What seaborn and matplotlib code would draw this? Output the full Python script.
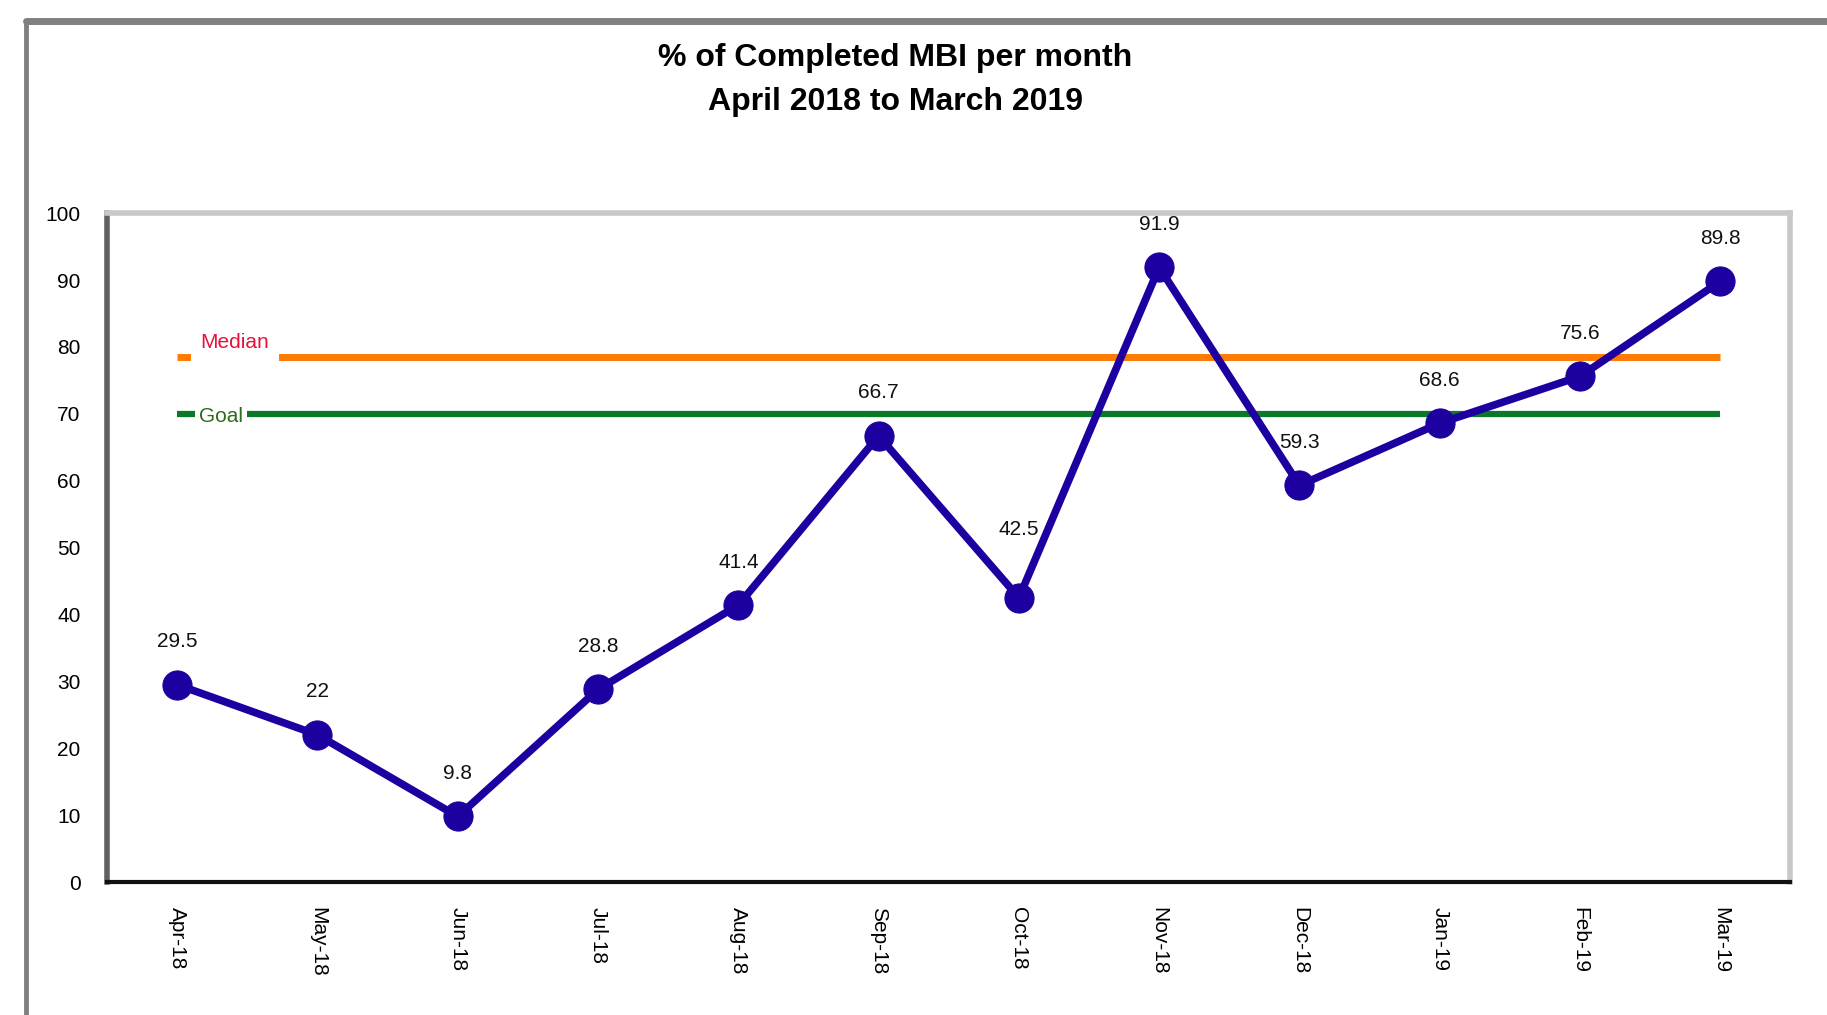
import matplotlib
matplotlib.use("Agg")
import numpy as np
import pandas as pd
import matplotlib.pyplot as plt
import seaborn as sns
from matplotlib.lines import Line2D

# data
months = ["Apr-18", "May-18", "Jun-18", "Jul-18", "Aug-18", "Sep-18",
          "Oct-18", "Nov-18", "Dec-18", "Jan-19", "Feb-19", "Mar-19"]
pct_completed = [29.5, 22, 9.8, 28.8, 41.4, 66.7, 42.5, 91.9, 59.3, 68.6, 75.6, 89.8]
median_value = 78.5
goal_value = 70

df = pd.DataFrame({"pos": np.arange(len(months)), "month": months, "pct": pct_completed})

sns.set_style("white")
plt.rcParams['font.family'] = ['Liberation Sans', 'DejaVu Sans']
plt.rcParams['text.color'] = 'black'
plt.rcParams['xtick.color'] = 'black'
plt.rcParams['ytick.color'] = 'black'

fig = plt.figure(figsize=(18.27, 10.15), dpi=100)
ax = fig.add_axes([0.0586, 0.131, 0.9214, 0.659])

line_col = "#1E00A0"
# reference lines first so the series sits on top
ax.hlines(median_value, 0, len(months) - 1, color="#FF7A00", lw=5, zorder=2)
ax.hlines(goal_value, 0, len(months) - 1, color="#0A7A28", lw=4.5, zorder=2)
ax.text(0.41, median_value + 2.1, "Median", color="#E8103C", fontsize=15, ha="center", va="center",
        bbox=dict(facecolor="white", edgecolor="none", pad=7), zorder=3)
ax.text(0.31, goal_value - 0.4, "Goal", color="#2E6B1E", fontsize=15, ha="center", va="center",
        bbox=dict(facecolor="white", edgecolor="none", pad=3), zorder=3)

sns.lineplot(data=df, x="pos", y="pct", ax=ax, color=line_col, lw=5.5,
             marker="o", markersize=21, markeredgecolor=line_col, zorder=4)

# the Oct label sits higher in the original so it clears the line
label_offset = {6: 68}
for x, y in zip(df["pos"], df["pct"]):
    ax.annotate(f"{y:g}", (x, y), xytext=(0, label_offset.get(x, 43)), textcoords="offset pixels",
                ha="center", va="center", fontsize=15, color="#111111")

ax.set_xlim(-0.5, len(months) - 0.5)
ax.set_ylim(0, 100)
ax.set_yticks(range(0, 101, 10))
ax.set_xticks(df["pos"])
ax.set_xticklabels(months, rotation=-90, fontsize=15)
ax.set_xticks(np.arange(-0.5, len(months), 1), minor=True)
ax.tick_params(axis="x", which="major", length=0, pad=18)
ax.tick_params(axis="x", which="minor", length=7, width=2, color="#333333")
ax.tick_params(axis="y", length=5, width=2, color="#333333", labelsize=15, pad=14)
ax.set_xlabel("")
ax.set_ylabel("")

for side, col, w in [("left", "#606060", 4), ("bottom", "#111111", 3),
                     ("top", "#C8C8C8", 4), ("right", "#C8C8C8", 4)]:
    ax.spines[side].set_visible(True)
    ax.spines[side].set_color(col)
    ax.spines[side].set_linewidth(w)

fig.text(0.490, 0.921, "% of Completed MBI per month\nApril 2018 to March 2019",
         ha="center", va="center", fontsize=23, fontweight="bold", linespacing=1.6, color="black")

# outer frame of the pasted chart
fig.add_artist(Line2D([0.0142, 1], [0.979, 0.979], transform=fig.transFigure, color="#808080", lw=5))
fig.add_artist(Line2D([0.0142, 0.0142], [0, 0.979], transform=fig.transFigure, color="#808080", lw=3.5))

fig.savefig("out.png", dpi=100)
